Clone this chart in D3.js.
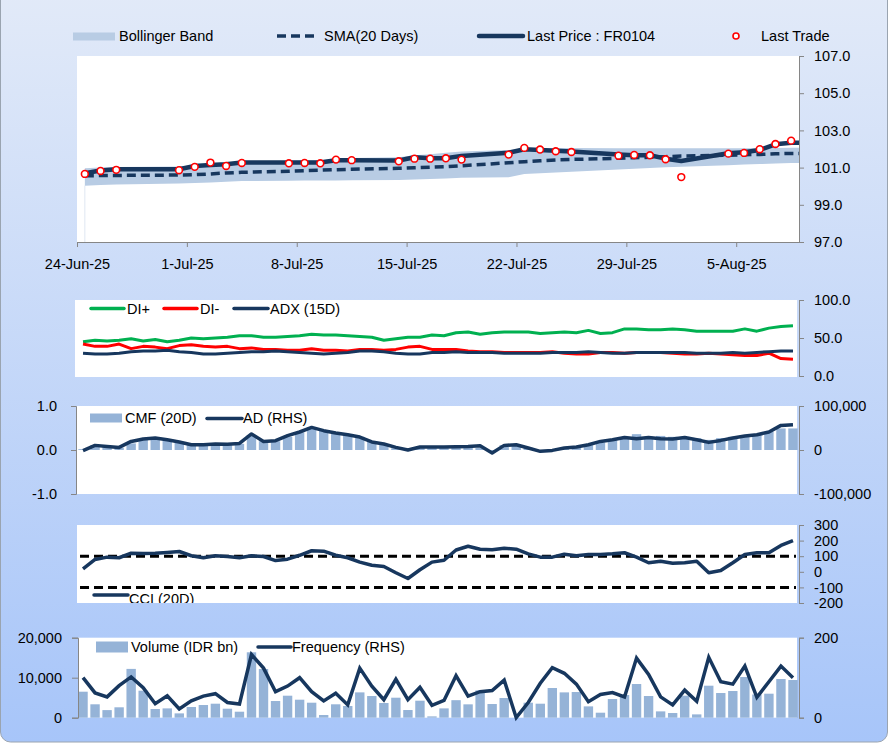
<!DOCTYPE html>
<html><head><meta charset="utf-8">
<script src="https://cdn.jsdelivr.net/npm/d3@7"></script>
<style>
body{margin:0;background:#fff}
svg{display:block}
text{font-family:"Liberation Sans",Arial,sans-serif;font-size:14.5px;fill:#000}
</style>
</head><body>
<svg id="c" width="893" height="744"></svg>
<script>
// ---------- DATA ----------
const tradeDates = ["2025-06-24","2025-06-25","2025-06-26","2025-06-30","2025-07-01","2025-07-02","2025-07-03","2025-07-04",
"2025-07-07","2025-07-08","2025-07-09","2025-07-10","2025-07-11","2025-07-14","2025-07-15","2025-07-16","2025-07-17","2025-07-18",
"2025-07-21","2025-07-22","2025-07-23","2025-07-24","2025-07-25","2025-07-28","2025-07-29","2025-07-30","2025-07-31","2025-08-01",
"2025-08-04","2025-08-05","2025-08-06","2025-08-07","2025-08-08"];
const lastPrice = [100.70,100.84,100.91,100.91,101.09,101.14,101.18,101.27,101.27,101.27,101.27,101.40,101.40,101.38,101.56,101.50,101.50,101.63,
101.80,101.99,101.95,101.90,101.86,101.70,101.66,101.66,101.48,101.36,101.77,101.83,101.95,102.25,102.34];
const lastTrade = [100.66,100.82,100.88,100.86,101.04,101.27,101.09,101.25,101.23,101.25,101.23,101.43,101.40,101.34,101.48,101.48,101.50,101.43,
101.70,102.06,101.97,101.88,101.84,101.64,101.68,101.66,101.45,100.49,101.75,101.79,101.99,102.27,102.45];
const sma20 = [100.56,100.57,100.58,100.60,100.62,100.66,100.71,100.75,100.80,100.83,100.86,100.89,100.91,100.96,100.99,101.02,101.05,101.10,
101.26,101.32,101.37,101.41,101.44,101.50,101.53,101.56,101.59,101.62,101.67,101.69,101.71,101.74,101.76];
const bandUpper = [100.97,101.00,101.03,101.06,101.12,101.18,101.24,101.32,101.36,101.38,101.40,101.48,101.52,101.56,101.66,101.72,101.80,101.86,
101.95,102.02,102.04,102.05,102.05,102.04,102.04,102.04,102.04,102.04,102.04,102.04,102.05,102.06,102.07];
const bandLower = [100.03,100.06,100.09,100.15,100.17,100.20,100.24,100.28,100.29,100.30,100.30,100.31,100.32,100.34,100.36,100.39,100.42,100.45,
100.48,100.66,100.70,100.74,100.78,100.90,100.94,100.98,101.02,101.05,101.13,101.16,101.19,101.22,101.25];
const priceTicks = [97,99,101,103,105,107];
const dateTicks = ["2025-06-24","2025-07-01","2025-07-08","2025-07-15","2025-07-22","2025-07-29","2025-08-05"];

const diPlus = [45,47,46,47,49,46,48,45,47,50, 49,50,51,53,53,51,51,52,53,55, 54,54,53,52,51,47,49,51,51,54,
53,57,58,55,57,58,58,58,56,57, 58,57,60,56,57,62,62,61,61,62, 61,59,59,59,59,62,59,63,65,66];
const diMinus = [42,39,39,42,36,39,38,36,40,41, 39,38,39,36,37,35,35,34,34,36, 34,34,33,35,35,34,35,38,39,35,
35,35,33,32,32,31,31,31,31,32, 30,29,29,31,31,30,31,31,31,30, 29,29,30,29,28,27,27,30,23,22];
const adx = [30,29,29,30,32,33,33,34,32,31, 29,29,30,31,32,32,33,32,31,30, 29,30,31,33,33,32,30,29,29,31,
31,32,31,31,31,30,30,30,30,31, 31,31,32,31,30,30,31,31,31,31, 31,30,30,30,31,30,31,32,33,33];
const diTicks = [0,50,100];

const cmf = [0.02,0.11,0.09,0.05,0.15,0.23,0.27,0.23,0.17,0.13, 0.13,0.14,0.13,0.14,0.34,0.20,0.20,0.30,0.40,0.51,
0.45,0.39,0.36,0.30,0.19,0.13,0.04,0.00,0.05,0.05, 0.05,0.08,0.08,0.05,-0.02,0.11,0.13,0.05,-0.01,0.02,
0.05,0.08,0.11,0.17,0.23,0.28,0.36,0.30,0.32,0.30, 0.30,0.27,0.23,0.27,0.30,0.32,0.36,0.42,0.49,0.49];
const ad = [-1600,10500,8200,5900,19500,25000,27300,23400,18200,12000, 12000,13600,12800,15000,36400,19500,21100,32500,40900,51400,
43900,38600,34800,29500,18200,13600,5900,0,6800,6800, 6800,7500,8200,9800,-6800,10500,12000,4500,-3000,-900,
4500,6800,12000,19500,23400,28600,25700,28600,25700,25000, 28600,23400,17300,21800,27300,31800,34800,40900,55900,57500];
const cmfTicks = [-1,0,1];
const adTicks = [-100000,0,100000];

const cci = [19,79,94,90,119,117,119,124,130,103, 90,103,98,90,103,98,72,81,106,135, 132,106,90,62,42,34,-6,-43,13,62,
74,140,164,145,141,151,145,115,94,94, 113,103,111,111,115,122,94,58,68,55, 58,68,-6,8,58,111,122,122,169,200];
const cciTicks = [-200,-100,0,100,200,300];
const cciBands = [100,-100];

const volume = [6500,3350,1900,2600,12200,6750,2170,2330,1080,2670, 3170,3500,2250,1500,16350,12170,4170,5500,4500,3750,
670,3350,2920,6330,5420,3670,5000,1920,4250,330, 2330,4380,3340,6830,3420,4920,0,3750,3500,7420,
6330,6420,2830,1250,4670,5670,8420,5420,1580,1170, 5500,830,8000,6170,6670,10170,5800,6000,9670,9420];
const frequency = [100,62,52,80,102,75,35,55,22,42, 54,60,38,34,158,124,65,79,100,65, 42,61,32,124,79,45,96,45,76,31,
43,105,54,65,68,94,0,38,86,125, 111,84,40,58,63,52,149,108,52,32, 69,41,151,90,84,129,51,90,129,100];
const volTicks = [0,10000,20000];
const freqTicks = [0,200];

// ---------- STYLE ----------
const NAVY = "#17375e", BAR = "#95b3d7", BAND = "#b8cce4", GREEN = "#00b050", RED = "#ff0000", AXIS = "#868686";
const hy = f => d => f(d).replace(/\u2212/g,"-");
const svg = d3.select("#c");
const defs = svg.append("defs");
const g0 = defs.append("linearGradient").attr("id","bg").attr("x1",0).attr("y1",0).attr("x2",0).attr("y2",1);
g0.append("stop").attr("offset","0%").attr("stop-color","#e2eaf8");
g0.append("stop").attr("offset","100%").attr("stop-color","#a7c5f9");
svg.append("rect").attr("x",0.5).attr("y",-10).attr("width",887).attr("height",752).attr("rx",10)
  .attr("fill","url(#bg)").attr("stroke","#9aa4b0").attr("stroke-width",1);

const XL = 77, XR = 799;
const parse = d3.utcParse("%Y-%m-%d");
const day = 864e5;

function styleAxis(g){
  g.selectAll(".domain").attr("stroke",AXIS);
  g.selectAll(".tick line").attr("stroke",AXIS);
  g.selectAll(".tick text").style("font-size","14.5px").style("font-family","'Liberation Sans',Arial,sans-serif").attr("fill","#000");
}

// ---------- PANEL 1 : PRICE ----------
{
  const top = 56, bot = 242;
  svg.append("rect").attr("x",XL).attr("y",top).attr("width",XR-XL).attr("height",bot-top).attr("fill","#fff");
  const x = d3.scaleUtc().domain([parse("2025-06-24"), new Date(parse("2025-08-08").getTime()+day)]).range([XL,XR]);
  const y = d3.scaleLinear().domain([97,107]).range([bot,top]);
  const cx = d => x(new Date(parse(d).getTime()+day/2));
  const idx = d3.range(tradeDates.length);
  const clip = defs.append("clipPath").attr("id","clip1");
  clip.append("rect").attr("x",XL).attr("y",top).attr("width",XR-XL).attr("height",bot-top);
  const pg = svg.append("g").attr("clip-path","url(#clip1)");
  // extend series to the end of the axis
  const ext = arr => idx.map(i=>[cx(tradeDates[i]), arr[i]]).concat([[XR, arr[arr.length-1]]]);
  const bandPts = idx.map(i=>[cx(tradeDates[i]), bandLower[i], bandUpper[i]]).concat([[XR, bandLower[bandLower.length-1], bandUpper[bandUpper.length-1]]]);
  pg.append("line").attr("x1",bandPts[0][0]).attr("x2",bandPts[0][0]).attr("y1",y(bandPts[0][1])).attr("y2",bot)
    .attr("stroke","#dfe7f2").attr("stroke-width",1);
  pg.append("path").attr("d", d3.area().x(d=>d[0]).y0(d=>y(d[1])).y1(d=>y(d[2]))(bandPts)).attr("fill",BAND);
  pg.append("path").attr("d", d3.line().x(d=>d[0]).y(d=>y(d[1]))(ext(sma20)))
    .attr("fill","none").attr("stroke",NAVY).attr("stroke-width",3.5).attr("stroke-dasharray","9,5");
  pg.append("path").attr("d", d3.line().x(d=>d[0]).y(d=>y(d[1]))(ext(lastPrice)))
    .attr("fill","none").attr("stroke",NAVY).attr("stroke-width",4.5).attr("stroke-linejoin","round");
  pg.selectAll("circle.lt").data(idx).join("circle").attr("cx",i=>cx(tradeDates[i])).attr("cy",i=>y(lastTrade[i]))
    .attr("r",3.4).attr("fill","#fff").attr("stroke",RED).attr("stroke-width",1.6);
  const ya = svg.append("g").attr("transform",`translate(${XR},0)`)
    .call(d3.axisRight(y).tickValues(priceTicks).tickFormat(d3.format(".1f")).tickSize(5).tickPadding(10).tickSizeOuter(5));
  styleAxis(ya);
  const xa = svg.append("g").attr("transform",`translate(0,${bot})`)
    .call(d3.axisBottom(x).tickValues(dateTicks.map(parse)).tickFormat(d3.utcFormat("%-d-%b-%y")).tickSize(5).tickPadding(12).tickSizeOuter(0));
  styleAxis(xa);
  // legend
  const L = svg.append("g");
  L.append("rect").attr("x",73).attr("y",32.5).attr("width",42).attr("height",8).attr("fill",BAND);
  L.append("text").attr("x",119).attr("y",41).text("Bollinger Band");
  L.append("line").attr("x1",277).attr("x2",317).attr("y1",36).attr("y2",36).attr("stroke",NAVY).attr("stroke-width",3.5).attr("stroke-dasharray","9,5");
  L.append("text").attr("x",324).attr("y",41).text("SMA(20 Days)");
  L.append("line").attr("x1",479).attr("x2",523).attr("y1",36).attr("y2",36).attr("stroke",NAVY).attr("stroke-width",4.5).attr("stroke-linecap","round");
  L.append("text").attr("x",527).attr("y",41).text("Last Price : FR0104");
  L.append("circle").attr("cx",736).attr("cy",36).attr("r",3).attr("fill","#fff").attr("stroke",RED).attr("stroke-width",1.6);
  L.append("text").attr("x",761).attr("y",41).text("Last Trade");
}

// category scale for the lower panels
const cat = d3.scaleBand().domain(d3.range(60)).range([XL,XR]).paddingInner(0.22).paddingOuter(0.11);
const cc = i => cat(i) + cat.bandwidth()/2;

// ---------- PANEL 2 : DMI ----------
{
  const top = 300, bot = 376;
  svg.append("rect").attr("x",75).attr("y",top).attr("width",XR-75-2).attr("height",bot-top+1).attr("fill","#fff");
  const y = d3.scaleLinear().domain([0,100]).range([bot,top]);
  const ln = d3.line().x((d,i)=>cc(i)).y(d=>y(d));
  [[diPlus,GREEN],[diMinus,RED],[adx,NAVY]].forEach(([s,c])=>{
    svg.append("path").attr("d",ln(s)).attr("fill","none").attr("stroke",c).attr("stroke-width",3).attr("stroke-linejoin","round");
  });
  const ya = svg.append("g").attr("transform",`translate(${XR},0)`)
    .call(d3.axisRight(y).tickValues(diTicks).tickFormat(d3.format(".1f")).tickSize(5).tickPadding(10).tickSizeOuter(5));
  styleAxis(ya);
  const L = svg.append("g");
  [[91,124,GREEN,127,"DI+"],[164,197,RED,200,"DI-"],[234,268,NAVY,270,"ADX (15D)"]].forEach(([a,b,c,t,s])=>{
    L.append("line").attr("x1",a).attr("x2",b).attr("y1",308.5).attr("y2",308.5).attr("stroke",c).attr("stroke-width",3.5).attr("stroke-linecap","round");
    L.append("text").attr("x",t).attr("y",313.5).text(s);
  });
}

// ---------- PANEL 3 : CMF / AD ----------
{
  const top = 406, bot = 494;
  svg.append("rect").attr("x",XL).attr("y",top).attr("width",XR-XL-2).attr("height",bot-top).attr("fill","#fff");
  const y = d3.scaleLinear().domain([-1,1]).range([bot,top]);
  const y2 = d3.scaleLinear().domain([-100000,100000]).range([bot,top]);
  svg.append("g").selectAll("rect").data(cmf).join("rect")
    .attr("x",(d,i)=>cat(i)).attr("width",cat.bandwidth())
    .attr("y",d=>y(Math.max(0,d))).attr("height",d=>Math.abs(y(d)-y(0))).attr("fill",BAR);
  svg.append("path").attr("d",d3.line().x((d,i)=>cc(i)).y(d=>y2(d))(ad)).attr("fill","none").attr("stroke",NAVY)
    .attr("stroke-width",3.5).attr("stroke-linejoin","round");
  const yl = svg.append("g").attr("transform",`translate(76,0)`)
    .call(d3.axisLeft(y).tickValues(cmfTicks).tickFormat(hy(d3.format(".1f"))).tickSize(5).tickPadding(14).tickSizeOuter(5));
  styleAxis(yl);
  const yr = svg.append("g").attr("transform",`translate(${XR},0)`)
    .call(d3.axisRight(y2).tickValues(adTicks).tickFormat(hy(d3.format(","))).tickSize(5).tickPadding(10).tickSizeOuter(5));
  styleAxis(yr);
  const L = svg.append("g");
  L.append("rect").attr("x",90).attr("y",413.5).attr("width",32).attr("height",9).attr("fill",BAR);
  L.append("text").attr("x",125).attr("y",423).text("CMF (20D)");
  L.append("line").attr("x1",207).attr("x2",242).attr("y1",418.5).attr("y2",418.5).attr("stroke",NAVY).attr("stroke-width",3.5).attr("stroke-linecap","round");
  L.append("text").attr("x",243).attr("y",423).text("AD (RHS)");
}

// ---------- PANEL 4 : CCI ----------
{
  const top = 525, bot = 603;
  svg.append("rect").attr("x",XL).attr("y",top).attr("width",XR-XL-2).attr("height",bot-top).attr("fill","#fff");
  const y = d3.scaleLinear().domain([-200,300]).range([bot,top]);
  const clip = defs.append("clipPath").attr("id","clip4");
  clip.append("rect").attr("x",XL).attr("y",top).attr("width",XR-XL).attr("height",bot-top);
  const pg = svg.append("g").attr("clip-path","url(#clip4)");
  cciBands.forEach(v=>{
    pg.append("line").attr("x1",cc(0)-3).attr("x2",cc(59)+3).attr("y1",y(v)).attr("y2",y(v))
      .attr("stroke","#000").attr("stroke-width",3).attr("stroke-dasharray","9,5");
  });
  pg.append("path").attr("d",d3.line().x((d,i)=>cc(i)).y(d=>y(d))(cci)).attr("fill","none").attr("stroke",NAVY)
    .attr("stroke-width",3.5).attr("stroke-linejoin","round");
  pg.append("line").attr("x1",94).attr("x2",128).attr("y1",595).attr("y2",595).attr("stroke",NAVY).attr("stroke-width",3.5).attr("stroke-linecap","round");
  pg.append("text").attr("x",129).attr("y",604).text("CCI (20D)");
  const yr = svg.append("g").attr("transform",`translate(${XR},0)`)
    .call(d3.axisRight(y).tickValues(cciTicks).tickFormat(hy(d3.format("d"))).tickSize(5).tickPadding(10).tickSizeOuter(5));
  styleAxis(yr);
}

// ---------- PANEL 5 : VOLUME / FREQUENCY ----------
{
  const top = 637.7, bot = 717.7;
  svg.append("rect").attr("x",78).attr("y",top).attr("width",XR-78-2).attr("height",bot-top).attr("fill","#fff");
  const y = d3.scaleLinear().domain([0,20000]).range([bot,top]);
  const y2 = d3.scaleLinear().domain([0,200]).range([bot,top]);
  svg.append("g").selectAll("rect").data(volume).join("rect")
    .attr("x",(d,i)=>cat(i)).attr("width",cat.bandwidth())
    .attr("y",d=>y(d)).attr("height",d=>y(0)-y(d)).attr("fill",BAR);
  svg.append("path").attr("d",d3.line().x((d,i)=>cc(i)).y(d=>y2(d))(frequency)).attr("fill","none").attr("stroke",NAVY)
    .attr("stroke-width",3.5).attr("stroke-linejoin","miter");
  const yl = svg.append("g").attr("transform",`translate(78,0)`)
    .call(d3.axisLeft(y).tickValues(volTicks).tickFormat(d3.format(",")).tickSize(6).tickPadding(10).tickSizeOuter(6));
  styleAxis(yl);
  const yr = svg.append("g").attr("transform",`translate(${XR},0)`)
    .call(d3.axisRight(y2).tickValues(freqTicks).tickFormat(d3.format("d")).tickSize(5).tickPadding(10).tickSizeOuter(5));
  styleAxis(yr);
  const L = svg.append("g");
  L.append("rect").attr("x",96).attr("y",641.5).attr("width",32).attr("height",11).attr("fill",BAR);
  L.append("text").attr("x",131).attr("y",652).text("Volume (IDR bn)");
  L.append("line").attr("x1",258).attr("x2",291).attr("y1",647).attr("y2",647).attr("stroke",NAVY).attr("stroke-width",3.5).attr("stroke-linecap","round");
  L.append("text").attr("x",292).attr("y",652).text("Frequency (RHS)");
}
</script>
</body></html>
